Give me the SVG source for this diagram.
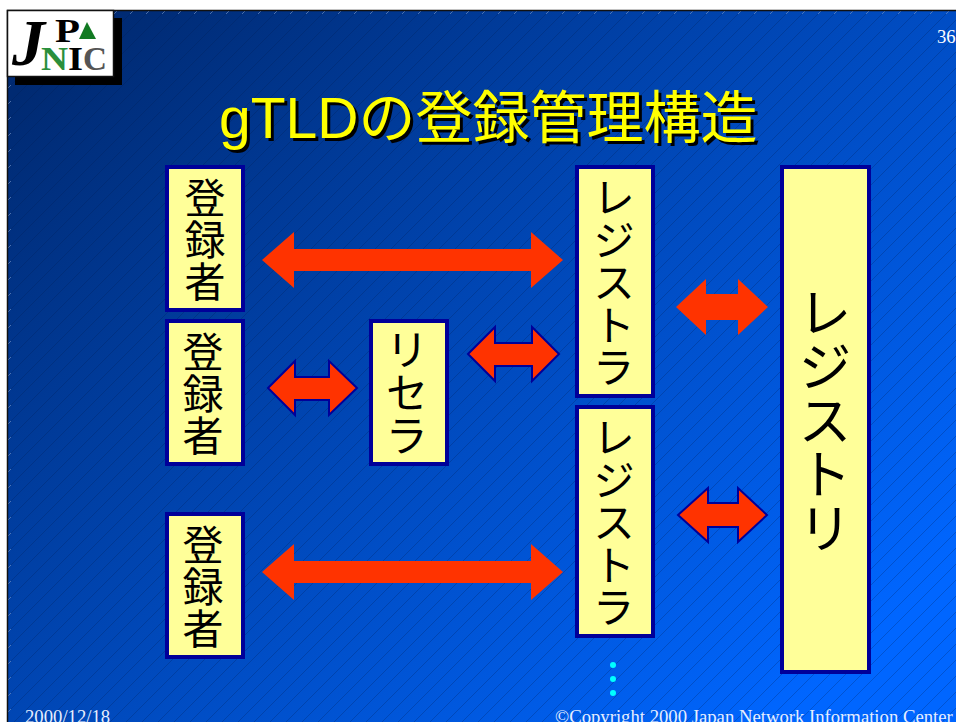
<svg xmlns="http://www.w3.org/2000/svg" width="956" height="722" viewBox="0 0 956 722">
<defs>
<linearGradient id="bg" gradientUnits="userSpaceOnUse" x1="120" y1="0" x2="780" y2="722">
<stop offset="0" stop-color="#002a72"/><stop offset="1" stop-color="#0066ff"/>
</linearGradient>
<pattern id="hatch" patternUnits="userSpaceOnUse" width="16" height="16">
<path d="M-2 18L18 -2" stroke="#001a50" stroke-opacity=".26" stroke-width="1" fill="none"/>
</pattern>
<pattern id="tick" patternUnits="userSpaceOnUse" width="16" height="16">
<path d="M0 16L16 0" stroke="#7f9fd0" stroke-opacity=".6" stroke-width="1" fill="none"/>
</pattern>
</defs>
<style>
.box{fill:#ffff99;stroke:#000099;stroke-width:4}
.arrow{fill:#ff3300}
.edged{stroke:#000099;stroke-width:2}
.v{font-family:"Noto Sans CJK JP","Noto Sans",sans-serif;writing-mode:vertical-rl;fill:#000}
.title{font-family:"Liberation Sans","Noto Sans CJK JP",sans-serif;font-size:57px}
.foot{font-family:"Liberation Serif",serif;font-size:18.7px;fill:#e6eeff}
.lg{font-family:"Liberation Serif",serif;font-weight:bold;font-size:34px}
</style>
<rect width="956" height="722" fill="#fff"/>
<g id="background">
<rect x="7" y="10" width="949" height="712" fill="url(#bg)"/>
<rect x="7" y="10" width="949" height="712" fill="url(#hatch)"/>
<rect x="8" y="11" width="948" height="3" fill="url(#tick)"/>
<rect x="8" y="11" width="3" height="711" fill="url(#tick)"/>
<path d="M7.500 722V10.500H956" fill="none" stroke="#111" stroke-width="1.500"/>
</g>
<g id="logo">
<rect x="15" y="18" width="107" height="67" fill="#000"/>
<rect x="7.500" y="10.500" width="106" height="66" fill="#fff" stroke="#111" stroke-width="1.500"/>
<text x="12" y="65" font-family="Liberation Serif,serif" font-weight="bold" font-style="italic" font-size="66" fill="#000">J</text>
<text class="lg" x="55" y="42" fill="#000" textLength="25" lengthAdjust="spacingAndGlyphs">P</text>
<path d="M79 39L87 22L96 39Z" fill="#117a22"/>
<text class="lg" x="41" y="70" fill="#2a8f3c" textLength="27" lengthAdjust="spacingAndGlyphs">N</text>
<text class="lg" x="68" y="70" fill="#000" textLength="15" lengthAdjust="spacingAndGlyphs">I</text>
<text class="lg" x="83" y="70" fill="#555" textLength="24" lengthAdjust="spacingAndGlyphs">C</text>
</g>
<g id="page-number"><text class="foot" x="937" y="43" style="fill:#fff">36</text></g>
<g id="title">
<text class="title" x="222" y="141" fill="#000">gTLDの登録管理構造</text>
<text class="title" x="219" y="138" fill="#ffff00">gTLDの登録管理構造</text>
</g>
<g id="connectors">
<polygon class="arrow" points="262,260 294,232 294,249 531,249 531,232 563,260 531,288 531,271 294,271 294,288"/>
<polygon class="arrow" points="262,572 294,544 294,561 531,561 531,544 563,572 531,600 531,583 294,583 294,600"/>
<polygon class="arrow edged" points="268,388 295,361 295,377 329,377 329,361 357,388 329,415 329,400 295,400 295,415"/>
<polygon class="arrow edged" points="468,354 495,327 495,343 532,343 532,327 559,354 532,381 532,366 495,366 495,381"/>
<polygon class="arrow" points="676,307 706,279 706,294 738,294 738,279 768,307 738,335 738,320 706,320 706,335"/>
<polygon class="arrow edged" points="678,515 708,488 708,503 738,503 738,488 767,515 738,542 738,527 708,527 708,542"/>
</g>
<g id="registrant-1"><rect class="box" x="167" y="167" width="76" height="143"/><text class="v" x="205" y="177" font-size="41" letter-spacing="1">登録者</text></g>
<g id="registrant-2"><rect class="box" x="167" y="321" width="76" height="143"/><text class="v" x="203" y="331" font-size="41" letter-spacing="1">登録者</text></g>
<g id="registrant-3"><rect class="box" x="167" y="514" width="76" height="143"/><text class="v" x="203" y="524" font-size="41" letter-spacing="1">登録者</text></g>
<g id="reseller"><rect class="box" x="371" y="321" width="76" height="143"/><text class="v" x="407" y="328" font-size="43">リセラ</text></g>
<g id="registrar-1"><rect class="box" x="577" y="167" width="76" height="229"/><text class="v" x="614" y="176" font-size="42.500">レジストラ</text></g>
<g id="registrar-2"><rect class="box" x="577" y="407" width="76" height="229"/><text class="v" x="614" y="416" font-size="42.500">レジストラ</text></g>
<g id="registry"><rect class="box" x="782" y="167" width="87" height="505"/><text class="v" x="825" y="285" font-size="54">レジストリ</text></g>
<g id="dots" fill="#00ffff"><circle cx="613" cy="665" r="3"/><circle cx="613" cy="679" r="3"/><circle cx="613" cy="693" r="3"/></g>
<g id="footer">
<text class="foot" x="25" y="723">2000/12/18</text>
<text class="foot" x="555" y="723">©Copyright 2000 Japan Network Information Center</text>
</g>
</svg>
